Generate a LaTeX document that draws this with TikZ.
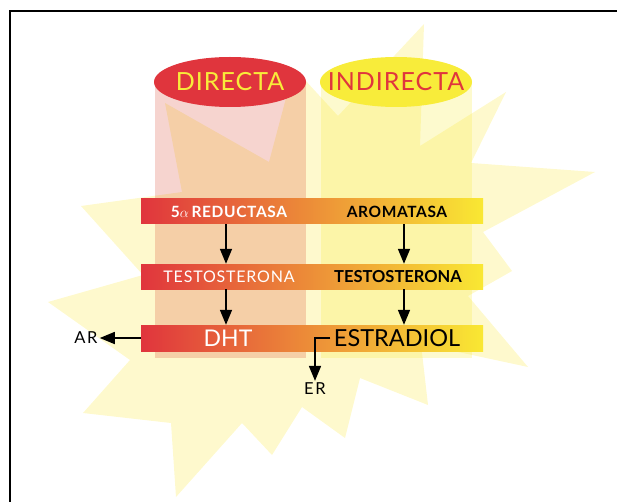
\documentclass[tikz,border=0pt]{standalone}
\usepackage{fontspec}
\setmainfont{Lato}
\newfontfamily\spacedfont[LetterSpace=10]{Lato}
\newfontfamily\lidfont[LetterSpace=4]{Lato}
\newfontfamily\testofont[LetterSpace=5]{Lato}
\newfontfamily\boldfont[LetterSpace=4]{Lato Bold}
\usetikzlibrary{arrows.meta}
\usetikzlibrary{positioning}

\definecolor{barred}{RGB}{224,53,61}
\definecolor{barorange}{RGB}{234,135,53}
\definecolor{baryellow}{RGB}{249,232,51}
\definecolor{starfill}{RGB}{254,249,205}
\definecolor{colred}{RGB}{210,40,15}
\definecolor{ellyellow}{RGB}{248,236,58}

\begin{document}
\begin{tikzpicture}[x=1pt,y=-1pt,
	bar/.style={minimum width=342pt,minimum height=25pt,inner sep=0pt,
		left color=barred,middle color=barorange,right color=baryellow},
	lid/.style={font=\lidfont\fontsize{25}{25}\selectfont},
	arr/.style={-{Triangle[length=15pt,width=12pt]},line width=1.6pt},
	lbl/.style={inner sep=2pt,font=\spacedfont\fontsize{16.5}{16.5}\selectfont}]
	\useasboundingbox (0,0) rectangle (617,502);

	% star behind everything
	\fill[starfill] plot [sharp cycle] coordinates {(424,24) (420,146)
		(506,92) (471,163) (595,172) (483,232) (512,271) (468,296)
		(528,367) (421,344) (428,405) (360,378) (345,438) (302,407)
		(272,455) (242,423) (176,497) (171,423) (83,413) (130,360)
		(48,302) (143,275) (81,206) (182,192) (165,103) (269,162)
		(294,68) (338,116)};

	% the two columns
	\fill[colred,fill opacity=0.2] (155,82) rectangle (306,358);
	\fill[ellyellow,fill opacity=0.25] (321,82) rectangle (472,358);
	\fill[barred] (230,82) ellipse [x radius=76,y radius=25];
	\fill[ellyellow] (396,82) ellipse [x radius=76,y radius=25];

	\node[lid,text=ellyellow] (directa) at (230,82) {DIRECTA};
	\node[lid,text=barred] (indirecta) at (396,82) {INDIRECTA};

	% bars
	\node[bar] (bar1) at (312,211.5) {};
	\node[bar] (bar2) at (312,276.5) {};
	\node[bar,minimum height=26pt] (bar3) at (312,338) {};

	\node[text=white,font=\boldfont\fontsize{15.5}{15.5}\selectfont]
		(reduct) at (229,211.5) {5$\alpha$\,REDUCTASA};
	\node[font=\boldfont\fontsize{15.5}{15.5}\selectfont]
		(aroma) at (397,211.5) {AROMATASA};
	\node[text=white,font=\testofont\fontsize{16}{16}\selectfont]
		(testoa) at (229,276.5) {TESTOSTERONA};
	\node[font=\bfseries\fontsize{16.5}{16.5}\selectfont]
		(testob) at (398,276.5) {TESTOSTERONA};
	\node[text=white,font=\fontsize{23}{23}\selectfont]
		(dht) at (228,338) {DHT};
	\node[font=\fontsize{23.5}{23.5}\selectfont]
		(estr) at (397,338) {ESTRADIOL};

	\coordinate (cola) at (226,0);
	\coordinate (colb) at (404,0);

	\node[lbl] (ar) at (86,338) {AR};
	\node[lbl] (er) at (315,389) {ER};

	% arrows
	\draw[arr] (bar1.south -| cola) -- (bar2.north -| cola);
	\draw[arr] (bar2.south -| cola) -- (bar3.north -| cola);
	\draw[arr] (bar1.south -| colb) -- (bar2.north -| colb);
	\draw[arr] (bar2.south -| colb) -- (bar3.north -| colb);
	\draw[arr] (bar3.west) -- (ar.east);
	\draw[arr] (estr.west) -| (er.north);

	% frame
	\draw[line width=1.3pt] (10,502) -- (10,11) -- (617,11);
\end{tikzpicture}
\end{document}
